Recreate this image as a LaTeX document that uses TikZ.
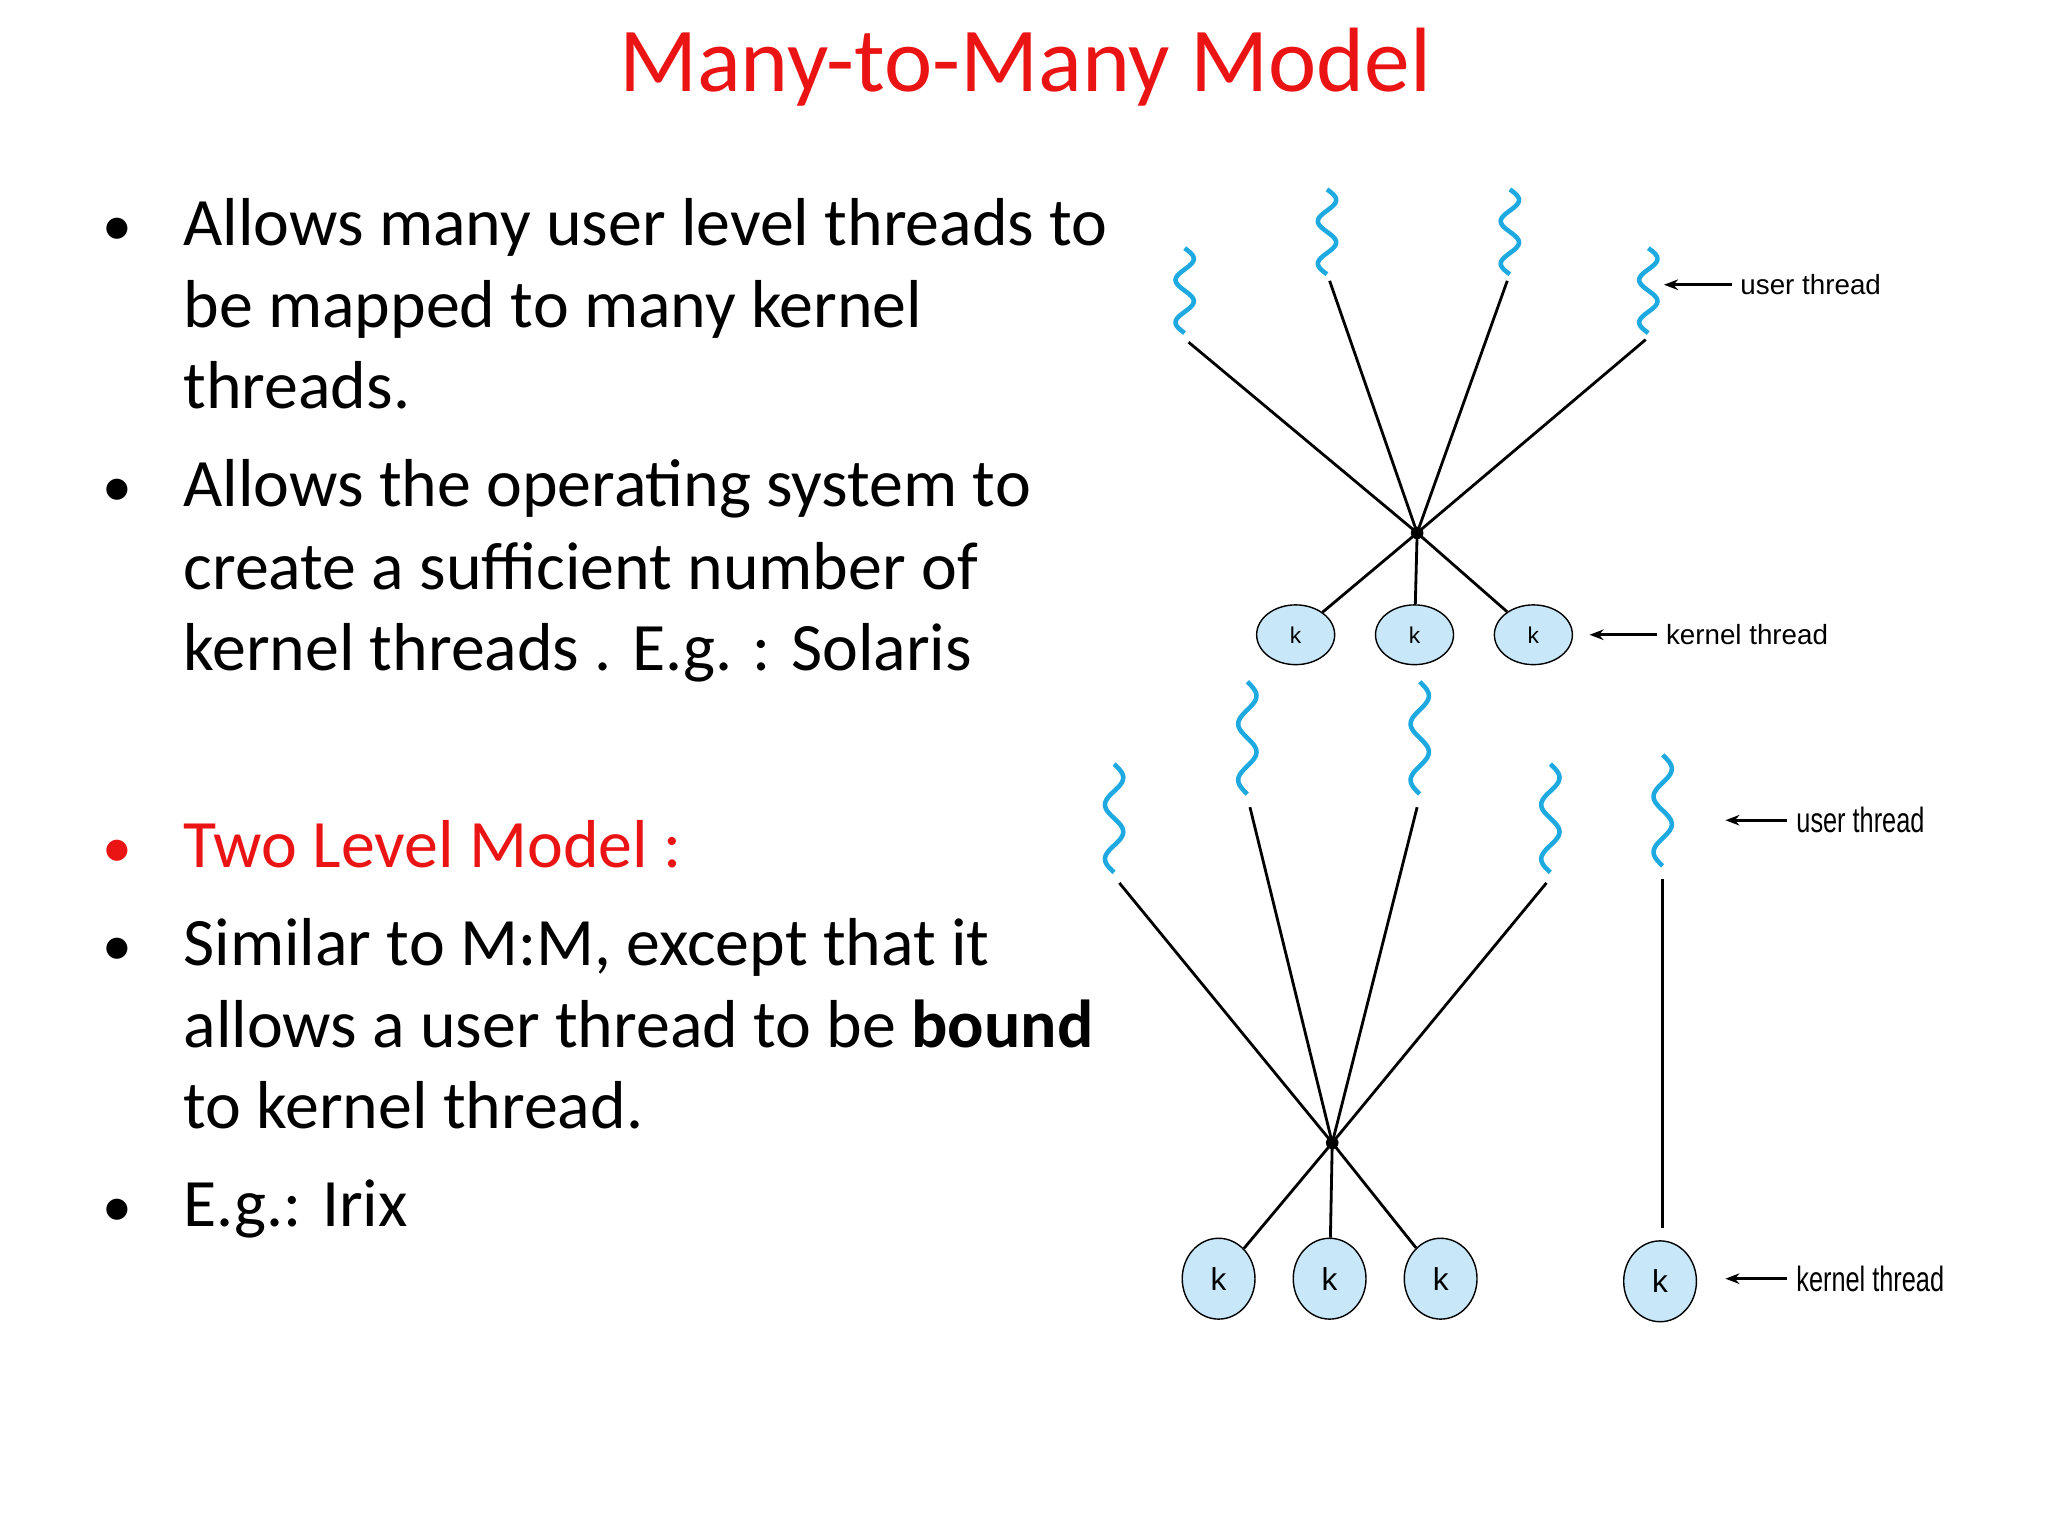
\documentclass[tikz,border=0pt]{standalone}
\usepackage{fontspec}
\setmainfont{Carlito}
\newfontfamily\lab{Liberation Sans}
\usetikzlibrary{shapes.geometric,arrows.meta}
\definecolor{tblue}{RGB}{30,170,225}
\definecolor{kfill}{RGB}{200,232,250}
\definecolor{tred}{RGB}{235,20,20}
\begin{document}
\begin{tikzpicture}[x=0.01306cm,y=-0.01306cm,
  body/.style={anchor=base west,inner sep=0,font=\fontsize{19.3}{23.3}\selectfont},
  bul/.style={anchor=base,inner sep=0,font=\fontsize{17}{23.3}\selectfont},
  wire/.style={line width=0.8pt},
  kA/.style={ellipse,draw,fill=kfill,minimum width=22.2pt,minimum height=17pt,inner sep=0,font=\lab\fontsize{6.5}{7}\selectfont},
  kB/.style={ellipse,draw,fill=kfill,minimum width=20.7pt,minimum height=23pt,inner sep=0,font=\lab\fontsize{9}{10}\selectfont},
  labA/.style={anchor=west,inner sep=0,font=\lab\fontsize{7.9}{9}\selectfont},
  labB/.style={anchor=west,inner sep=0,font=\lab\fontsize{10}{11}\selectfont,xscale=0.72,transform shape},
  hub/.style={circle,fill=black,inner sep=0,minimum size=3.6pt},
  arr/.style={-{Stealth[length=4pt]},line width=0.8pt}]
\useasboundingbox (0,0) rectangle (1568,1176);
\newcommand\squig[3]{\draw[tblue,line width=1.3pt,domain=0:1,samples=60,smooth] plot ({#1+7*sin(720*\x)},{#2+(#3-#2)*\x});}
% title
\node[anchor=base,inner sep=0,text=tred,font=\fontsize{26}{32}\selectfont] (title) at (785,70) {Many-to-Many Model};
% bullets
\node[bul] (b1) at (90,188) {•};
\node[body] (t1a) at (140,188) {Allows many user level threads to};
\node[body] (t1b) at (140,251) {be mapped to many kernel};
\node[body] (t1c) at (140,313) {threads.};
\node[bul] (b2) at (90,388) {•};
\node[body] (t2a) at (140,388) {Allows the operating system to};
\node[body] (t2b) at (140,451) {create a sufficient number of};
\node[body] (t2c) at (140,513) {kernel threads . E.g. : Solaris};
\node[bul,text=tred] (b3) at (90,664) {•};
\node[body,text=tred] (t3) at (140,664) {Two Level Model :};
\node[bul] (b4) at (90,739) {•};
\node[body] (t4a) at (140,739) {Similar to M:M, except that it};
\node[body] (t4b) at (140,802) {allows a user thread to be \textbf{bound}};
\node[body] (t4c) at (140,864) {to kernel thread.};
\node[bul] (b5) at (90,939) {•};
\node[body] (t5) at (140,939) {E.g.: Irix};
% top diagram
\squig{907}{190}{255}\squig{1016}{145}{210}\squig{1156}{145}{210}\squig{1262}{190}{255}
\coordinate (u1) at (910,262); \coordinate (u2) at (1018,215);
\coordinate (u3) at (1154,215); \coordinate (u4) at (1260,260);
\node[hub] (h1) at (1085,408) {};
\foreach \u in {u1,u2,u3,u4} \draw[wire] (\u) -- (h1.center);
\node[kA] (k1) at (992,486) {k};
\node[kA] (k2) at (1083,486) {k};
\node[kA] (k3) at (1174,486) {k};
\foreach \k in {k1,k2,k3} \draw[wire] (h1.center) -- (\k);
\node[labA] (lu1) at (1332,218) {user thread};
\coordinate (lu1a) at (1274,218);
\draw[arr] (lu1.west) ++(-6,0) -- (lu1a);
\node[labA] (lk1) at (1275,486) {kernel thread};
\coordinate (lk1a) at (1217,486);
\draw[arr] (lk1.west) ++(-6,0) -- (lk1a);
% bottom diagram
\squig{853}{585}{668}\squig{955}{522}{608}\squig{1087}{522}{608}\squig{1187}{585}{668}\squig{1273}{578}{663}
\coordinate (v1) at (857,676); \coordinate (v2) at (957,618);
\coordinate (v3) at (1085,618); \coordinate (v4) at (1184,676);
\coordinate (v5) at (1273,673);
\node[hub] (h2) at (1020,875) {};
\foreach \u in {v1,v2,v3,v4} \draw[wire] (\u) -- (h2.center);
\node[kB] (m1) at (933,979) {k};
\node[kB] (m2) at (1018,979) {k};
\node[kB] (m3) at (1103,979) {k};
\node[kB] (m4) at (1271,981) {k};
\foreach \k in {m1,m2,m3} \draw[wire] (h2.center) -- (\k);
\coordinate (v5b) at (1273,940);
\draw[wire] (v5) -- (v5b);
\node[labB] (lu2) at (1375,628) {user thread};
\coordinate (lu2a) at (1321,628);
\draw[arr] (1368,628) -- (lu2a);
\node[labB] (lk2) at (1375,979) {kernel thread};
\coordinate (lk2a) at (1321,979);
\draw[arr] (1368,979) -- (lk2a);
\end{tikzpicture}
\end{document}
